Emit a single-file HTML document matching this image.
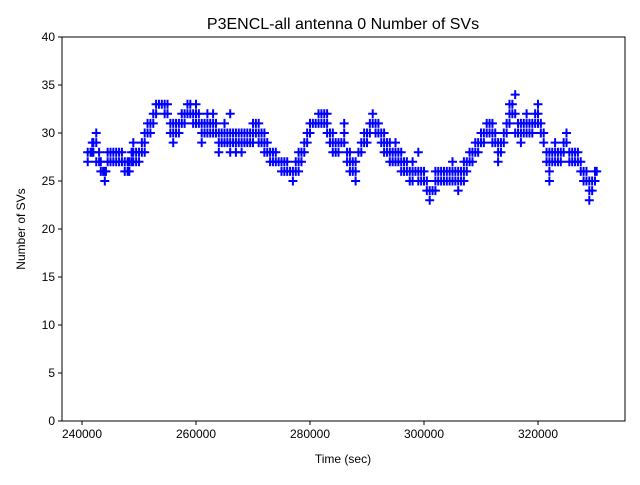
<!DOCTYPE html>
<html><head><meta charset="utf-8"><style>
body{margin:0;background:#fff;}
svg text{font-family:"Liberation Sans","DejaVu Sans",sans-serif;fill:#000;}
</style></head><body>
<svg id="chart" width="640" height="480" viewBox="0 0 640 480" xmlns="http://www.w3.org/2000/svg">
<rect width="640" height="480" fill="#fff"/>
<text x="343" y="29" font-size="16" text-anchor="middle">P3ENCL-all antenna 0 Number of SVs</text>
<g id="marks"></g>
<rect x="62" y="37" width="563" height="384" fill="none" stroke="#000" stroke-width="1"/>
<g id="axes"></g>
<text x="343" y="463" font-size="12" text-anchor="middle">Time (sec)</text>
<text transform="translate(25,229) rotate(-90)" font-size="12" text-anchor="middle">Number of SVs</text>
</svg>
<script>
const timesK=[241,241,241.8,241.8,242.5,242.5,242.5,243.3,243.3,244,244,244.5,244.5,245.5,245.5,246.5,246.5,247.5,247.5,248.3,248.3,249,249,249,250,250,251,251,251,252,252,253,253,254,255,255,256,256,256,257,257,258,258,259,259,260,260,260,261,261,261,262,262,262,263,263,263,264,264,264,265,265,265,266,266,266,266,267,267,267,268,268,268,269,269,270,270,270,271,271,271,272,272,272,273,273,274,274,275,275,276,276,277,277,278,278,278,279,279,280,280,281,282,282,283,283,283,284,284,284,285,285,286,286,286,287,287,287,288,288,288,289,289,290,290,291,291,292,292,293,293,293,294,294,294,295,295,295,296,296,296,297,297,298,298,298,299,299,299,300,300,301,301,302,302,302,303,303,304,304,305,305,305,306,306,306,307,307,307,308,308,309,309,310,310,311,311,312,312,312,313,313,313,314,314,315,315,315,316,316,316,317,317,317,318,318,318,319,319,320,320,320,321,321,322,322,322,322,323,323,323,324,324,325,325,326,326,327,327,328,328,329,329,329,330,330];
const values=[28,27,29,28,30,29,27,27,26,26,25,27,28,28,27,28,27,26,27,26,27,28,29,27,28,27,30,29,28,31,30,32,33,33,33,32,31,30,29,31,30,32,31,33,32,32,31,33,31,30,29,32,31,30,31,32,30,30,29,28,31,30,29,30,29,28,32,29,30,28,30,29,28,29,30,30,31,29,31,30,29,29,28,30,28,27,27,28,27,26,26,27,26,25,27,26,28,29,28,30,31,31,32,31,32,31,30,29,28,30,29,28,30,29,31,27,28,26,25,26,27,29,28,30,29,31,32,30,31,29,28,30,28,27,29,28,29,27,27,28,26,26,27,26,25,27,25,26,28,26,25,24,23,25,24,26,26,25,26,25,27,26,25,25,24,26,26,27,25,28,27,29,28,30,29,31,30,30,29,31,29,28,27,30,29,32,33,31,34,32,30,31,30,29,31,30,32,30,31,33,32,31,30,29,27,26,25,28,28,27,29,28,27,30,29,28,27,27,28,26,25,24,23,25,25,26];
const timesK2=[241.5,242,242,243,243,243.7,244.2,245,245,246,246,247,247,248,248,248.7,248.7,249.5,249.5,250.5,250.5,251.5,251.5,252.5,252.5,253.5,254.5,254.5,255.5,255.5,256.5,256.5,257.5,257.5,258.5,258.5,259.5,259.5,260.5,260.5,261.5,261.5,262.5,262.5,263.5,263.5,264.5,264.5,265.5,265.5,266.5,266.5,267.5,267.5,268.5,268.5,269.5,269.5,270.5,270.5,271.5,271.5,272.5,272.5,273.5,273.5,274.5,275.5,275.5,276.5,277.5,277.5,278.5,278.5,279.5,279.5,280.5,281.5,281.5,282.5,282.5,283.5,283.5,284.5,284.5,285.5,286.5,286.5,287.5,287.5,288.5,289.5,289.5,290.5,290.5,291.5,291.5,292.5,292.5,293.5,293.5,294.5,294.5,295.5,295.5,296.5,296.5,297.5,297.5,298.5,299.5,299.5,300.5,300.5,301.5,302.5,302.5,303.5,303.5,304.5,304.5,305.5,305.5,306.5,306.5,307.5,307.5,308.5,308.5,309.5,309.5,310.5,310.5,311.5,311.5,312.5,312.5,313.5,313.5,314.5,314.5,315.5,315.5,316.5,316.5,317.5,317.5,318.5,318.5,319.5,319.5,320.5,320.5,321.5,321.5,322.5,322.5,323.5,323.5,324.5,324.5,325.5,325.5,326.5,326.5,327.5,327.5,328.5,328.5,329.5,329.5,330.3];
const values2=[28,29,28,28,27,26,26,28,27,28,27,27,28,27,26,27,28,28,27,29,28,31,30,32,31,33,33,32,31,30,30,31,31,32,32,33,32,31,32,31,31,30,31,30,30,31,30,29,30,29,29,30,29,30,29,30,29,30,31,30,30,29,28,29,28,27,27,27,26,26,26,27,28,27,30,29,31,31,32,32,31,30,29,29,28,29,28,27,26,27,28,29,30,30,31,31,30,30,29,29,28,28,27,28,27,27,26,26,25,26,25,26,25,24,24,25,26,25,26,25,26,26,25,25,26,27,26,28,27,29,28,30,29,30,31,29,30,29,28,31,30,32,33,31,30,30,31,31,30,31,32,31,30,28,27,27,28,28,27,29,28,28,27,28,27,26,27,25,26,24,25,26];
const xTicks=[240000,260000,280000,300000,320000];
const yTicks=[0,5,10,15,20,25,30,35,40];
const X0=62,X1=625,Y0=421,Y1=37;
const xMin=236490,xMax=335263,yMin=0,yMax=40;
const sx=v=>X0+(v-xMin)/(xMax-xMin)*(X1-X0);
const sy=v=>Y0-(v-yMin)/(yMax-yMin)*(Y0-Y1);
const NS="http://www.w3.org/2000/svg";
const marks=document.getElementById('marks');
function drawSeries(ts,vs){
  for(let i=0;i<vs.length;i++){
    const x=sx(ts[i]*1000),y=sy(vs[i]);
    const p=document.createElementNS(NS,'path');
    p.setAttribute('d',`M${x-4.5},${y}H${x+4.5}M${x},${y-4.5}V${y+4.5}`);
    p.setAttribute('stroke','#0000ff');p.setAttribute('stroke-width','2');
    
    
    marks.appendChild(p);
  }
}
drawSeries(timesK,values);
drawSeries(timesK2,values2);
const axes=document.getElementById('axes');
xTicks.forEach(t=>{
  const x=sx(t);
  const l=document.createElementNS(NS,'line');
  l.setAttribute('x1',x);l.setAttribute('x2',x);l.setAttribute('y1',Y0);l.setAttribute('y2',Y0+4);l.setAttribute('stroke','#000');
  
  
  axes.appendChild(l);
  const tx=document.createElementNS(NS,'text');
  tx.setAttribute('x',x);tx.setAttribute('y',Y0+17);tx.setAttribute('font-size','12');tx.setAttribute('text-anchor','middle');
  tx.textContent=t;
  
  
  axes.appendChild(tx);
});
yTicks.forEach(t=>{
  const y=sy(t);
  const l=document.createElementNS(NS,'line');
  l.setAttribute('x1',X0-4);l.setAttribute('x2',X0);l.setAttribute('y1',y);l.setAttribute('y2',y);l.setAttribute('stroke','#000');
  
  
  axes.appendChild(l);
  const tx=document.createElementNS(NS,'text');
  tx.setAttribute('x',X0-7);tx.setAttribute('y',y+4);tx.setAttribute('font-size','12');tx.setAttribute('text-anchor','end');
  tx.textContent=t;
  
  
  axes.appendChild(tx);
});
</script>
</body></html>
